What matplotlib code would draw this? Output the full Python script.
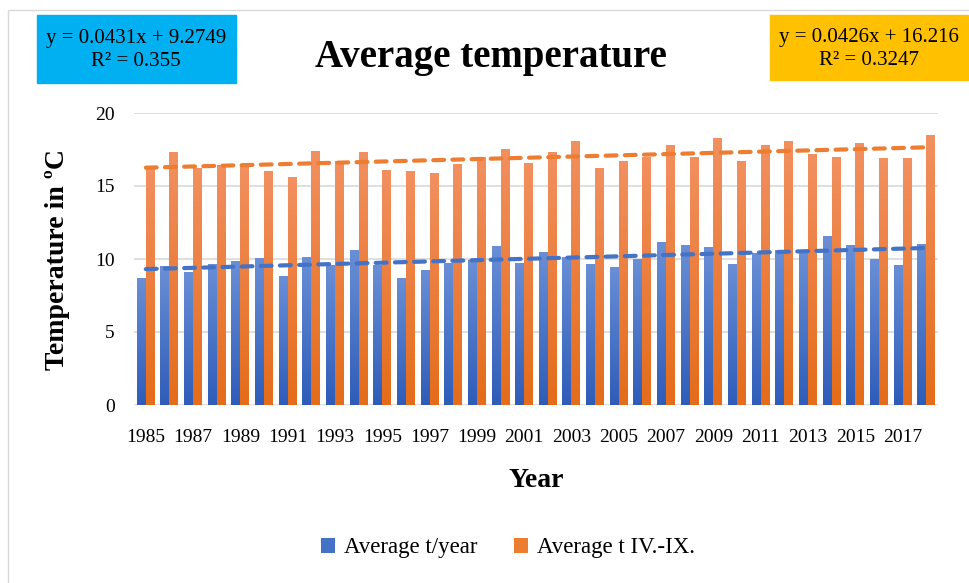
import numpy as np
import matplotlib.pyplot as plt
from matplotlib.patches import Rectangle
from matplotlib.colors import LinearSegmentedColormap

years = list(range(1985, 2019))
t_year = [8.70, 9.52, 9.11, 9.66, 9.86, 10.07, 8.84, 10.14, 9.59, 10.62, 9.59,
          8.70, 9.25, 9.75, 9.93, 10.89, 9.75, 10.48, 10.16, 9.66, 9.48, 10.00,
          11.16, 10.96, 10.82, 9.66, 10.41, 10.62, 10.55, 11.57, 10.96, 10.00,
          9.59, 11.03]
t_season = [16.20, 17.31, 16.24, 16.47, 16.38, 16.01, 15.60, 17.38, 16.74, 17.31, 16.08,
            16.01, 15.88, 16.49, 16.97, 17.52, 16.56, 17.31, 18.06, 16.22, 16.70, 16.99,
            17.79, 16.97, 18.27, 16.70, 17.79, 18.06, 17.18, 16.97, 17.93, 16.90,
            16.90, 18.47]
eq_year = "y = 0.0431x + 9.2749\nR² = 0.355"
eq_season = "y = 0.0426x + 16.216\nR² = 0.3247"

plt.rcParams['font.family'] = ['Liberation Serif', 'DejaVu Serif']

fig = plt.figure(figsize=(9.7, 5.83), dpi=100)
ax = fig.add_axes([134 / 970, 1 - 405 / 583, 804 / 970, 292 / 583])

x = np.arange(len(years))
w = 0.38
b1 = ax.bar(x - w / 2, t_year, w, color='#4472C4', label='Average t/year', zorder=2)
b2 = ax.bar(x + w / 2, t_season, w, color='#ED7D31', label='Average t IV.-IX.', zorder=2)

# excel-like vertical gradient on the bars
grad = np.linspace(0, 1, 256).reshape(-1, 1)
cm_blue = LinearSegmentedColormap.from_list('b', ['#2E5CB8', '#6A8FD6'])
cm_orng = LinearSegmentedColormap.from_list('o', ['#E46C1A', '#F29060'])
for bars, cm in ((b1, cm_blue), (b2, cm_orng)):
    for p in bars:
        x0, y0 = p.get_x(), p.get_y()
        im = ax.imshow(grad, extent=[x0, x0 + p.get_width(), y0, y0 + p.get_height()],
                       origin='lower', aspect='auto', cmap=cm, zorder=2.1)
        im.set_clip_path(p)

# linear trendlines
for vals, col in ((t_year, '#4472C4'), (t_season, '#ED7D31')):
    k, b = np.polyfit(x + 1, vals, 1)
    ax.plot(x, k * (x + 1) + b, ls=(0, (2.6, 2)), color=col, lw=3,
            dash_capstyle='round', zorder=3)

ax.set_xlim(-0.5, len(years) - 0.5)
ax.set_ylim(0, 20)
ax.set_yticks([0, 5, 10, 15, 20])
ax.set_xticks(x[::2])
ax.set_xticklabels([str(y) for y in years[::2]])
ax.tick_params(axis='x', length=0, labelsize=14, pad=17)
ax.tick_params(axis='y', length=0, labelsize=14, pad=14)
ax.grid(axis='y', color='#D9D9D9', lw=1.2, zorder=0)
ax.set_axisbelow(True)
for s in ax.spines.values():
    s.set_visible(False)

ax.set_ylabel('Temperature in ºC', fontsize=20, fontweight='bold', labelpad=18)
ax.set_xlabel('Year', fontsize=20, fontweight='bold', labelpad=16)
ax.set_autoscale_on(False)

fig.text(0.506, 1 - 58 / 583, 'Average temperature', fontsize=28, fontweight='bold',
         ha='center', va='center')

fig.patches.append(Rectangle((37 / 970, 1 - 83 / 583), 199 / 970, 68 / 583,
                             transform=fig.transFigure, color='#00B0F0', zorder=1))
fig.text(136 / 970, 1 - 50 / 583, eq_year, fontsize=15, ha='center', va='center',
         linespacing=1.3)
fig.patches.append(Rectangle((770 / 970, 1 - 80 / 583), 198 / 970, 65 / 583,
                             transform=fig.transFigure, color='#FFC000', zorder=1))
fig.text(869 / 970, 1 - 49 / 583, eq_season, fontsize=15, ha='center', va='center',
         linespacing=1.3)

# chart border
fig.patches.append(Rectangle((8 / 970, -0.01), 1, 1 - 10 / 583 + 0.01,
                             transform=fig.transFigure, fill=False, ec='#D9D9D9', lw=1))

fig.legend(handles=[b1, b2], loc='center', bbox_to_anchor=(0.524, 1 - 548 / 583),
           ncol=2, frameon=False, fontsize=16.5, handlelength=0.6, handleheight=0.6,
           columnspacing=1.6, handletextpad=0.4)

fig.savefig('out.png', dpi=100)
